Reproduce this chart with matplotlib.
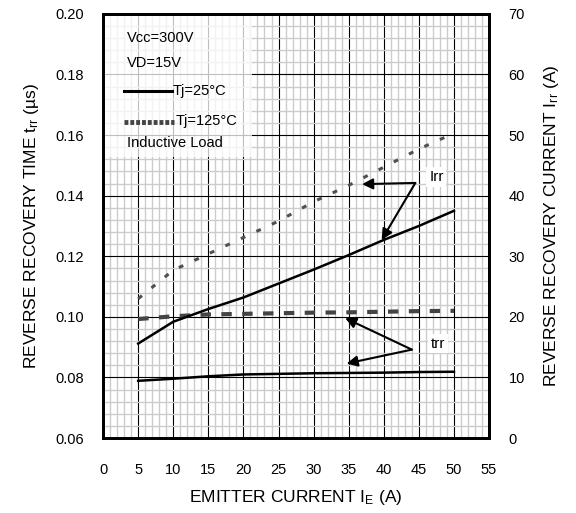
import numpy as np
import matplotlib
matplotlib.use("Agg")
import matplotlib.pyplot as plt
from matplotlib.ticker import MultipleLocator
from matplotlib.patches import Rectangle

plt.rcParams['font.family'] = ['Liberation Sans', 'DejaVu Sans']
plt.rcParams['mathtext.fontset'] = 'custom'
plt.rcParams['mathtext.rm'] = 'Liberation Sans'

# datos
ie = [5, 10, 15, 20, 25, 30, 35, 40, 45, 50]
irr_25 = [15.6, 19.2, 21.3, 23.2, 25.5, 27.8, 30.2, 32.7, 35.0, 37.5]
irr_125 = [23.0, 27.7, 30.4, 33.1, 35.8, 39.0, 41.7, 44.7, 47.7, 50.3]
trr_25 = [0.0789, 0.0796, 0.0804, 0.0810, 0.0812, 0.0814, 0.0815, 0.0816, 0.0818, 0.0819]
trr_125 = [0.0993, 0.1002, 0.1008, 0.1010, 0.1012, 0.1014, 0.1015, 0.1017, 0.1019, 0.1020]

xticks = np.arange(0, 56, 5)
yticks_left = np.arange(0.06, 0.2001, 0.02)
yticks_right = np.arange(0, 71, 10)

fig = plt.figure(figsize=(5.76, 5.13), dpi=100)
ax = fig.add_axes([0.179, 0.146, 0.670, 0.827])
ax2 = ax.twinx()

ax.set_xlim(0, 55)
ax.set_ylim(0.06, 0.20)
ax2.set_ylim(0, 70)

ax.set_xticks(xticks)
ax.set_yticks(yticks_left)
ax.set_yticklabels([f"{v:.2f}" for v in yticks_left])
ax2.set_yticks(yticks_right)
ax.xaxis.set_minor_locator(MultipleLocator(1))
ax.yaxis.set_minor_locator(MultipleLocator(0.004))

ax.grid(which='minor', color='#cccccc', linewidth=1.0)
ax.grid(which='major', color='black', linewidth=0.8)
ax.set_axisbelow(True)

ax.tick_params(which='both', length=0, labelsize=10.5)
ax.tick_params(axis='y', pad=14)
ax.tick_params(axis='x', pad=18)
ax2.tick_params(length=0, labelsize=10.5, pad=14)

for sp in ax.spines.values():
    sp.set_linewidth(2)
for sp in ax2.spines.values():
    sp.set_linewidth(2)

# caja blanca de la leyenda
ax.add_patch(Rectangle((0, 0.663), 0.385, 0.337, transform=ax.transAxes,
                       facecolor='white', alpha=0.75, edgecolor='none', zorder=1.5))

# curvas
ax.plot(ie, trr_25, color='black', linewidth=1.8, zorder=3)
ax.plot(ie, trr_125, color='#444444', linewidth=3, linestyle=(0, (2.5, 2.5)), zorder=3)
ax2.plot(ie, irr_25, color='black', linewidth=1.8, zorder=3)
ax2.plot(ie, irr_125, color='#505050', linewidth=2.2, linestyle=(0, (1.6, 4.0)), zorder=3)

# anotaciones
arrow = dict(arrowstyle='-|>', color='black', linewidth=1.5, mutation_scale=16, shrinkA=0, shrinkB=0)
ax2.text(47.5, 43.1, "Irr", fontsize=11, ha='center', va='center',
         bbox=dict(facecolor='white', edgecolor='none', pad=2))
ax2.annotate("", xy=(36.9, 41.9), xytext=(44.5, 42.1), arrowprops=arrow)
ax2.annotate("", xy=(39.7, 32.7), xytext=(44.5, 42.1), arrowprops=arrow)
ax2.text(47.7, 15.6, "trr", fontsize=11, ha='center', va='center',
         bbox=dict(facecolor='white', edgecolor='none', pad=2))
ax2.annotate("", xy=(34.5, 19.8), xytext=(44.0, 14.6), arrowprops=arrow)
ax2.annotate("", xy=(34.7, 12.3), xytext=(44.0, 14.6), arrowprops=arrow)

# leyenda manual
ax.text(0.062, 0.943, "Vcc=300V", transform=ax.transAxes, fontsize=10.5, va='center')
ax.text(0.062, 0.884, "VD=15V", transform=ax.transAxes, fontsize=10.5, va='center')
ax.plot([0.054, 0.179], [0.818, 0.818], transform=ax.transAxes, color='black', linewidth=2.2)
ax.text(0.179, 0.818, "Tj=25°C", transform=ax.transAxes, fontsize=10.5, va='center')
ax.plot([0.054, 0.184], [0.745, 0.745], transform=ax.transAxes, color='#444444',
        linewidth=3.5, linestyle=(0, (0.8, 0.4)))
ax.text(0.187, 0.748, "Tj=125°C", transform=ax.transAxes, fontsize=10.5, va='center')
ax.text(0.062, 0.696, "Inductive Load", transform=ax.transAxes, fontsize=10.5, va='center')

ax.set_xlabel(r"EMITTER CURRENT I$\mathregular{_E}$ (A)", fontsize=12.5, labelpad=8)
ax.set_ylabel(r"REVERSE RECOVERY TIME t$\mathregular{_{rr}}$ (µs)", fontsize=12.5, labelpad=10)
ax2.set_ylabel(r"REVERSE RECOVERY CURRENT I$\mathregular{_{rr}}$ (A)", fontsize=12.5, labelpad=12)

fig.savefig("out.png", dpi=100)
